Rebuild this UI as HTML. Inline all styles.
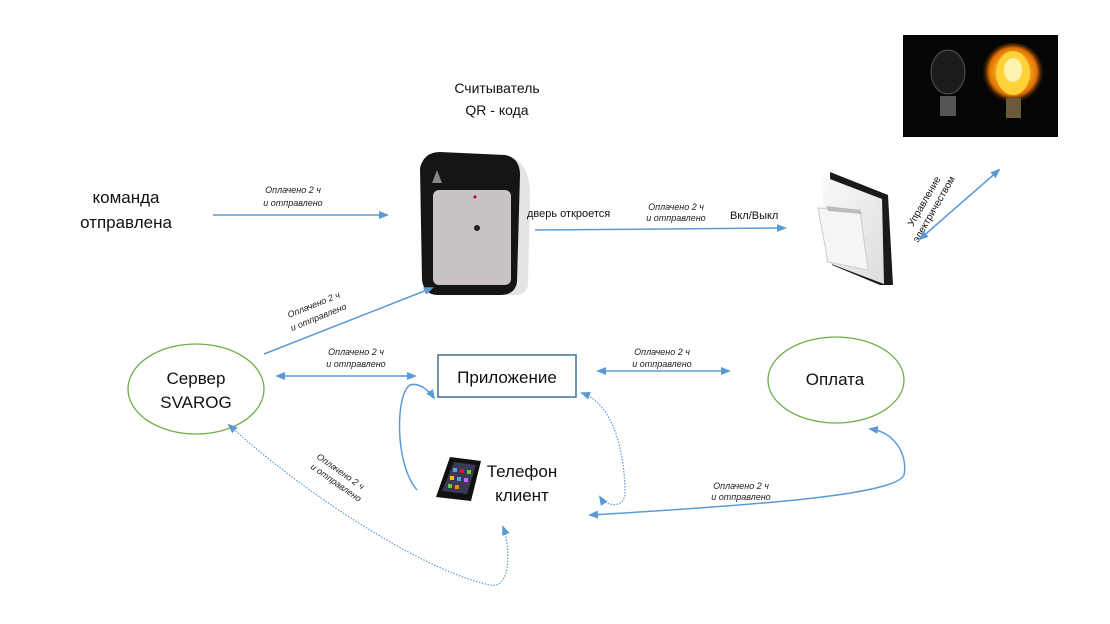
<!DOCTYPE html>
<html><head><meta charset="utf-8"><style>
html,body{margin:0;padding:0;background:#fff;width:1110px;height:624px;overflow:hidden}
svg{display:block}
text{font-family:"Liberation Sans",sans-serif;fill:#111}
.s{font-size:9px;font-style:italic;fill:#222}
</style></head><body>
<svg width="1110" height="624" viewBox="0 0 1110 624" xmlns="http://www.w3.org/2000/svg">
<defs>
<marker id="a" markerWidth="10" markerHeight="8" refX="8" refY="4" orient="auto-start-reverse" markerUnits="userSpaceOnUse"><path d="M0,0 L10,4 L0,8 z" fill="#5b9bd5"/></marker>
<radialGradient id="glow" cx="50%" cy="45%" r="50%"><stop offset="0" stop-color="#fff6c0"/><stop offset="0.4" stop-color="#ffc030"/><stop offset="0.75" stop-color="#e07000"/><stop offset="1" stop-color="#000" stop-opacity="0"/></radialGradient>
<linearGradient id="sw" x1="0" y1="0" x2="1" y2="1"><stop offset="0" stop-color="#fafafa"/><stop offset="1" stop-color="#dcdcdc"/></linearGradient>
</defs>

<text x="497" y="93" font-size="14" text-anchor="middle">Считыватель</text>
<text x="497" y="115" font-size="14" text-anchor="middle">QR - кода</text>
<text x="126" y="203" font-size="17" text-anchor="middle">команда</text>
<text x="126" y="228" font-size="17" text-anchor="middle">отправлена</text>

<!-- QR reader -->
<path d="M480,155 L505,155 Q530,160 530,195 L528,285 Q526,295 515,295 L490,295 Z" fill="#e4e4e4"/>
<path d="M420,168 Q424,152 440,152 L505,155 Q520,158 520,175 L517,282 Q515,295 500,295 L438,295 Q424,295 422,280 Z" fill="#151515"/>
<rect x="433" y="190" width="78" height="95" rx="6" fill="#c9c3c8"/>
<circle cx="477" cy="228" r="3" fill="#222"/>
<circle cx="475" cy="197" r="1.5" fill="#c00"/>
<polygon points="432,183 437,170 442,183" fill="#888"/>

<text x="527" y="217" font-size="11">дверь откроется</text>
<text x="730" y="219" font-size="11">Вкл/Выкл</text>

<!-- switch -->
<path d="M830,172 L888,195 L893,285 L880,285 L832,265 Z" fill="#1a1a1a"/>
<path d="M822,176 L882,199 L884,284 L826,262 Z" fill="url(#sw)"/>
<path d="M818,208 L860,210 L868,270 L828,262 Z" fill="#f6f6f6" stroke="#ccc" stroke-width="1"/>
<path d="M826,206 L860,210 L862,214 L828,211 Z" fill="#bbb"/>

<!-- bulbs -->
<rect x="903" y="35" width="155" height="102" fill="#050505"/>
<ellipse cx="948" cy="72" rx="17" ry="22" fill="#1c1c1c" stroke="#555" stroke-width="1"/>
<rect x="940" y="96" width="16" height="20" fill="#555"/>
<circle cx="1013" cy="75" r="32" fill="url(#glow)"/>
<ellipse cx="1013" cy="73" rx="17" ry="22" fill="#ffd23a"/>
<ellipse cx="1013" cy="70" rx="9" ry="12" fill="#fff3b0"/>
<rect x="1006" y="98" width="15" height="20" fill="#6a5a3a"/>

<text transform="translate(913,227) rotate(-60)" font-size="10">Управление</text>
<text transform="translate(918,243) rotate(-60)" font-size="10">электричеством</text>

<ellipse cx="196" cy="389" rx="68" ry="45" fill="#fff" stroke="#70ad47" stroke-width="1.3"/>
<text x="196" y="384" font-size="17" text-anchor="middle">Сервер</text>
<text x="196" y="408" font-size="17" text-anchor="middle">SVAROG</text>
<ellipse cx="836" cy="380" rx="68" ry="43" fill="#fff" stroke="#70ad47" stroke-width="1.3"/>
<text x="835" y="385" font-size="17" text-anchor="middle">Оплата</text>
<rect x="438" y="355" width="138" height="42" fill="#fff" stroke="#41719c" stroke-width="1.5"/>
<text x="507" y="383" font-size="17" text-anchor="middle">Приложение</text>

<!-- phone -->
<path d="M450,457 L481,461 L471,501 L436,497 Z" fill="#111"/>
<path d="M454,462 L476,465 L467,494 L442,491 Z" fill="#3a3a55"/>
<g fill="#4fa3e0"><rect x="453" y="468" width="4" height="4"/><rect x="460" y="469" width="4" height="4" fill="#e04"/><rect x="467" y="470" width="4" height="4" fill="#6c3"/><rect x="450" y="476" width="4" height="4" fill="#fb0"/><rect x="457" y="477" width="4" height="4"/><rect x="464" y="478" width="4" height="4" fill="#c6f"/><rect x="448" y="484" width="4" height="4" fill="#6c3"/><rect x="455" y="485" width="4" height="4" fill="#f80"/></g>
<text x="522" y="477" font-size="17" text-anchor="middle">Телефон</text>
<text x="522" y="501" font-size="17" text-anchor="middle">клиент</text>

<g stroke="#5b9bd5" stroke-width="1.5" fill="none">
<line x1="213" y1="215" x2="387" y2="215" marker-end="url(#a)"/>
<line x1="535" y1="230" x2="785" y2="228" marker-end="url(#a)"/>
<line x1="920" y1="239" x2="999" y2="170" marker-start="url(#a)" marker-end="url(#a)"/>
<line x1="264" y1="354" x2="432" y2="288" marker-end="url(#a)"/>
<line x1="277" y1="376" x2="415" y2="376" marker-start="url(#a)" marker-end="url(#a)"/>
<line x1="598" y1="371" x2="729" y2="371" marker-start="url(#a)" marker-end="url(#a)"/>
<path d="M417,490 C395,465 395,395 410,385 C420,382 430,392 434,398" marker-end="url(#a)"/>
<path d="M870,429 C895,432 908,455 904,475 C895,495 760,505 590,515" marker-start="url(#a)" marker-end="url(#a)"/>
</g>
<g stroke="#5b9bd5" stroke-width="1.2" fill="none" stroke-dasharray="1.5,1.5">
<path d="M582,393 C615,405 625,455 625,495 C622,510 605,505 600,497" marker-start="url(#a)" marker-end="url(#a)"/>
<path d="M229,425 C300,490 420,570 490,585 C512,590 510,545 503,527" marker-start="url(#a)" marker-end="url(#a)"/>
</g>

<text class="s" x="293" y="193" text-anchor="middle">Оплачено 2 ч</text>
<text class="s" x="293" y="206" text-anchor="middle">и отправлено</text>
<text class="s" x="676" y="210" text-anchor="middle">Оплачено 2 ч</text>
<text class="s" x="676" y="221" text-anchor="middle">и отправлено</text>
<text class="s" transform="translate(289,318) rotate(-22)">Оплачено 2 ч</text>
<text class="s" transform="translate(292,331) rotate(-22)">и отправлено</text>
<text class="s" x="356" y="355" text-anchor="middle">Оплачено 2 ч</text>
<text class="s" x="356" y="367" text-anchor="middle">и отправлено</text>
<text class="s" x="662" y="355" text-anchor="middle">Оплачено 2 ч</text>
<text class="s" x="662" y="367" text-anchor="middle">и отправлено</text>
<text class="s" transform="translate(316,458) rotate(35)">Оплачено 2 ч</text>
<text class="s" transform="translate(310,468) rotate(35)">и отправлено</text>
<text class="s" x="741" y="489" text-anchor="middle">Оплачено 2 ч</text>
<text class="s" x="741" y="500" text-anchor="middle">и отправлено</text>
</svg>
</body></html>
